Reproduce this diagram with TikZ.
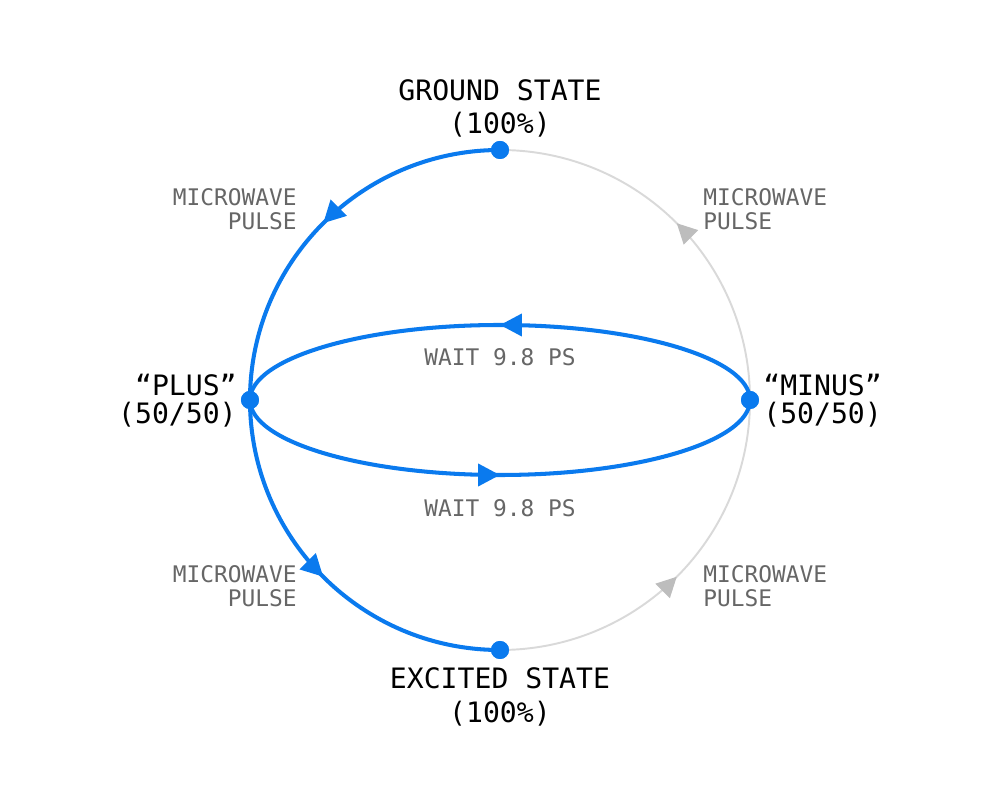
\documentclass[tikz,border=0pt]{standalone}
\usepackage{fontspec}
\setmainfont{DejaVu Sans Mono}
\usetikzlibrary{arrows.meta,decorations.markings}
\definecolor{qblue}{HTML}{0A7AEE}
\definecolor{qgray}{HTML}{D9D9D9}
\definecolor{qarrow}{HTML}{BDBDBD}
\definecolor{qtext}{HTML}{666666}

\tikzset{
  dot/.style={circle,fill=qblue,inner sep=0pt,minimum size=3.6mm},
  state/.style={font=\fontsize{16}{18}\selectfont,text=black,inner sep=0pt},
  note/.style={font=\fontsize{13}{15}\selectfont,text=qtext,inner sep=0pt},
  midarrow/.style={postaction={decorate},decoration={markings,
      mark=at position 0.5 with {\arrow{#1}}}},
  path blue/.style={draw=qblue,line width=2.3pt,
      midarrow={Triangle[length=4.4mm,width=4.4mm,fill=qblue]}},
  path gray/.style={draw=qgray,line width=1.1pt,
      midarrow={Triangle[length=4mm,width=4mm,fill=qarrow,color=qarrow]}}
}

\begin{document}
\begin{tikzpicture}
  \useasboundingbox (-10,-8) rectangle (10,8);

  % state points
  \node[dot] (top) at (90:5) {};
  \node[dot] (left) at (180:5) {};
  \node[dot] (bot) at (270:5) {};
  \node[dot] (right) at (0:5) {};

  % unused half of the sphere
  \draw[path gray] (bot.center) arc[start angle=270,end angle=360,radius=5];
  \draw[path gray] (right.center) arc[start angle=0,end angle=90,radius=5];

  % driven path
  \draw[path blue] (top.center) arc[start angle=90,end angle=180,radius=5];
  \draw[path blue] (left.center) arc[start angle=180,end angle=270,radius=5];
  \draw[path blue] (right.center) arc[start angle=0,end angle=180,x radius=5,y radius=1.5];
  \draw[path blue] (left.center) arc[start angle=180,end angle=360,x radius=5,y radius=1.5];

  % redraw the dots on top
  \foreach \n in {top,left,bot,right}
    \fill[qblue] (\n) circle (1.8mm);

  % labels
  \node[state] (groundlbl) at (0,6.2) {GROUND STATE};
  \node[state] (groundpct) at (0,5.5) {(100\%)};
  \node[state] (excitedlbl) at (0,-5.56) {EXCITED STATE};
  \node[state] (excitedpct) at (0,-6.28) {(100\%)};
  \node[state,anchor=east] (pluslbl) at (-5.26,0.3) {“PLUS”};
  \node[state,anchor=east] (pluspct) at (-5.26,-0.3) {(50/50)};
  \node[state,anchor=west] (minuslbl) at (5.26,0.3) {“MINUS”};
  \node[state,anchor=west] (minuspct) at (5.26,-0.3) {(50/50)};

  \node[note,align=right,anchor=east] (pulseul) at (-4.06,3.82) {MICROWAVE\\[-1pt]PULSE};
  \node[note,align=left,anchor=west] (pulseur) at (4.06,3.82) {MICROWAVE\\[-1pt]PULSE};
  \node[note,align=right,anchor=east] (pulsell) at (-4.06,-3.72) {MICROWAVE\\[-1pt]PULSE};
  \node[note,align=left,anchor=west] (pulselr) at (4.06,-3.72) {MICROWAVE\\[-1pt]PULSE};
  \node[note] (waittop) at (0,0.86) {WAIT 9.8 PS};
  \node[note] (waitbot) at (0,-2.16) {WAIT 9.8 PS};
\end{tikzpicture}
\end{document}
